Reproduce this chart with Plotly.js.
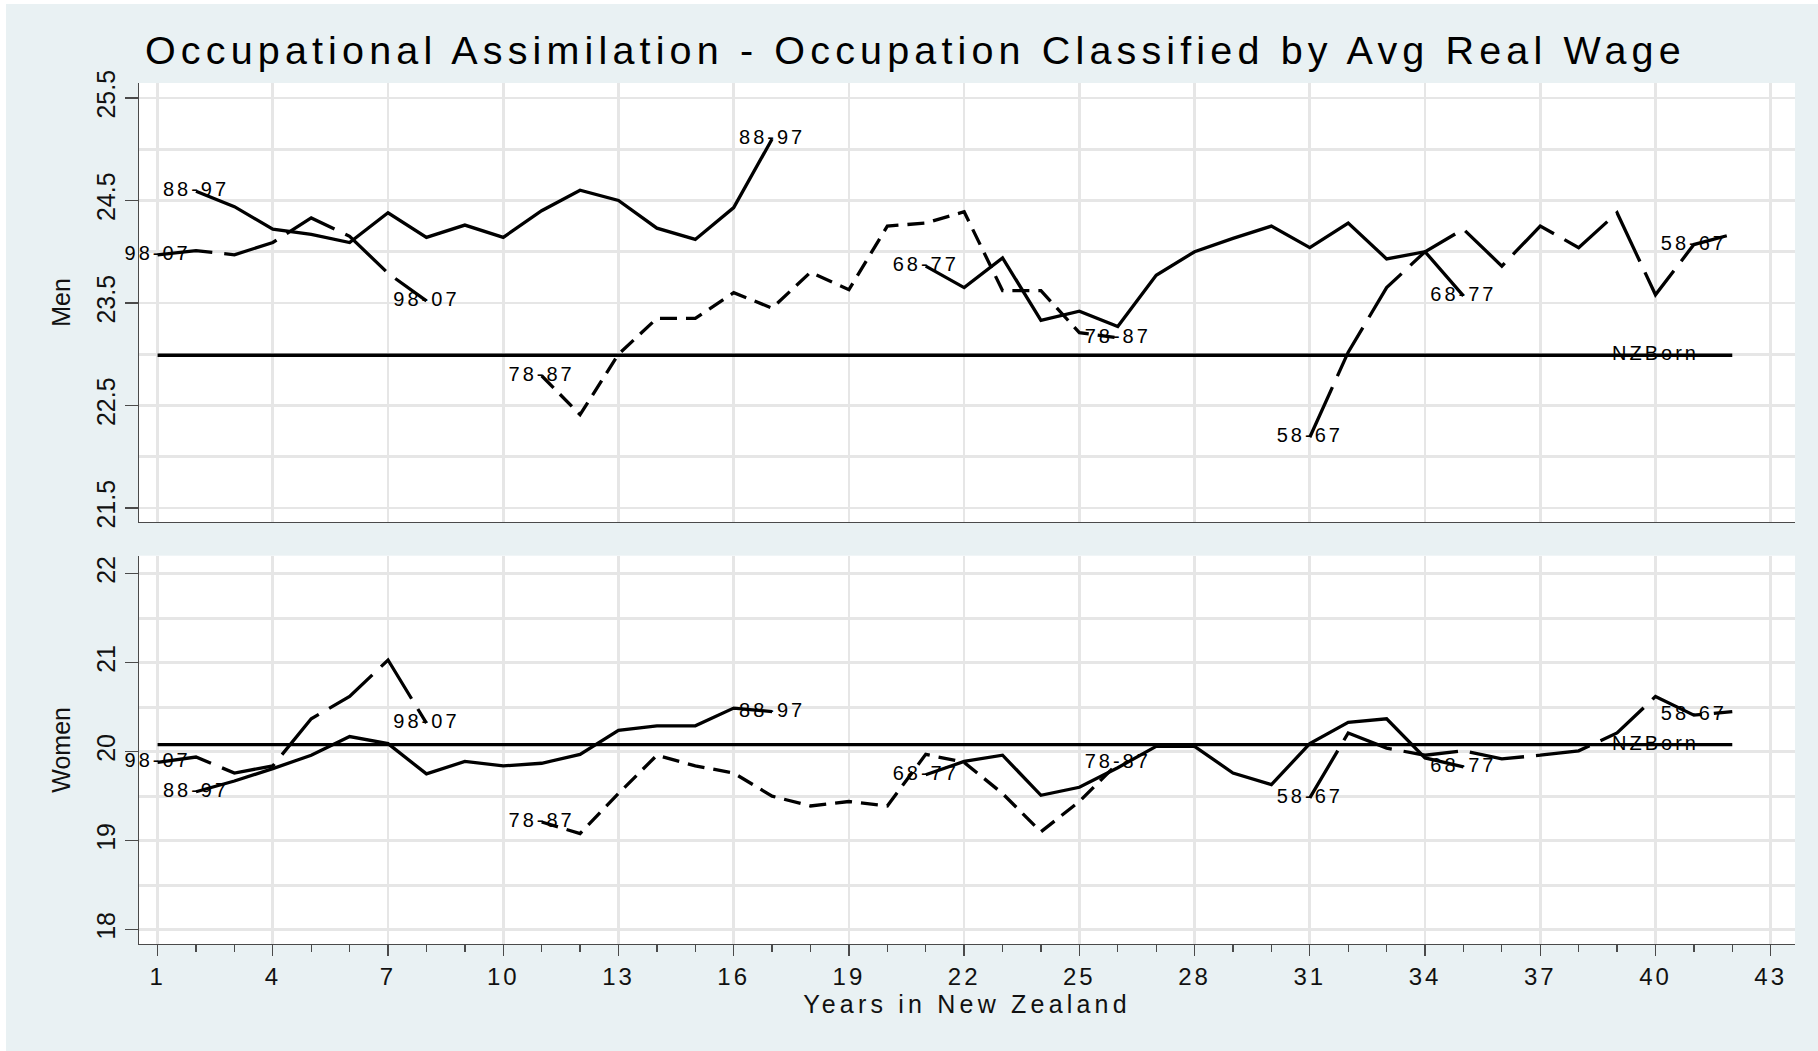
<!DOCTYPE html>
<html>
<head>
<meta charset="utf-8">
<script src="https://cdn.plot.ly/plotly-3.0.1.min.js"></script>
<style>
html, body { margin: 0; padding: 0; background: #ffffff; }
#chart { position: absolute; left: 6px; top: 4px; width: 1812px; height: 1047px; }
.gtitle { letter-spacing: 5.15px; }
.xtitle, .x2title { letter-spacing: 4.2px; }
.xtick text, .x2tick text { letter-spacing: 3px; }
.textpoint text { letter-spacing: 3px; }
</style>
</head>
<body>
<div id="chart"></div>
<script>
// ---------------- data ----------------
const cohorts    = ['98-07', '88-97', '78-87', '68-77', '58-67'];
const startYears = [1, 2, 11, 21, 31];
const endLabelYears = [8, 17, 26, 35, 41];

const men9807 = [23.97, 24.01, 23.97, 24.09, 24.33, 24.15, 23.79, 23.52];
const men8897 = [24.59, 24.44, 24.22, 24.17, 24.09, 24.38, 24.14, 24.26, 24.14, 24.40, 24.60, 24.50, 24.23, 24.12, 24.43, 25.10];
const men7887 = [22.79, 22.41, 23.00, 23.35, 23.35, 23.60, 23.45, 23.80, 23.63, 24.25, 24.28, 24.39, 23.62, 23.62, 23.21, 23.16];
const men6877 = [23.86, 23.65, 23.94, 23.33, 23.42, 23.27, 23.77, 24.00, 24.13, 24.25, 24.04, 24.28, 23.93, 24.00, 23.57];
const men5867 = [22.19, 23.02, 23.65, 24.00, 24.22, 23.86, 24.25, 24.04, 24.38, 23.58, 24.07, 24.17];

const women9807 = [19.88, 19.94, 19.76, 19.84, 20.37, 20.62, 21.03, 20.32];
const women8897 = [19.55, 19.67, 19.81, 19.96, 20.17, 20.09, 19.75, 19.89, 19.84, 19.87, 19.97, 20.24, 20.29, 20.29, 20.49, 20.45];
const women7887 = [19.21, 19.08, 19.53, 19.96, 19.84, 19.76, 19.50, 19.39, 19.44, 19.39, 19.97, 19.88, 19.53, 19.10, 19.44, 19.87];
const women6877 = [19.74, 19.89, 19.96, 19.51, 19.60, 19.82, 20.06, 20.06, 19.76, 19.63, 20.09, 20.33, 20.37, 19.93, 19.83];
const women5867 = [19.48, 20.21, 20.04, 19.96, 20.01, 19.92, 19.96, 20.01, 20.21, 20.62, 20.41, 20.45];

const nzBornLabel = 'NZBorn';
const nzBornYears = [1, 42];
const nzBornMen   = 22.99;
const nzBornWomen = 20.08;
const nzLabelYear = 40;

const xTickVals = [1, 4, 7, 10, 13, 16, 19, 22, 25, 28, 31, 34, 37, 40, 43];

// ---------------- styles ----------------
const dashStyles = ['55px,12px', 'solid', '17px,9px', 'solid', '55px,12px'];
const LINE_W = 3.3;
const GRID = '#E6E6E6';
const AXC = '#4a4a4a';
const FONT = '"Liberation Sans", Arial, Helvetica, sans-serif';

const menSeries   = [men9807, men8897, men7887, men6877, men5867];
const womenSeries = [women9807, women8897, women7887, women6877, women5867];

function yearsFor(start, arr) { return arr.map((_, i) => start + i); }

function panelTraces(series, nzVal, xa, ya) {
  const traces = [];
  const lx = [], ly = [], lt = [];
  series.forEach((vals, k) => {
    const xs = yearsFor(startYears[k], vals);
    traces.push({
      x: xs, y: vals, xaxis: xa, yaxis: ya, type: 'scatter', mode: 'lines',
      name: cohorts[k], showlegend: false, hoverinfo: 'x+y+name',
      line: { color: '#000000', width: LINE_W, dash: dashStyles[k] }
    });
    lx.push(xs[0]); ly.push(vals[0]); lt.push(cohorts[k]);
    const ei = xs.indexOf(endLabelYears[k]);
    lx.push(xs[ei]); ly.push(vals[ei]); lt.push(cohorts[k]);
  });
  traces.push({
    x: nzBornYears, y: nzBornYears.map(() => nzVal), xaxis: xa, yaxis: ya,
    type: 'scatter', mode: 'lines', name: nzBornLabel, showlegend: false,
    line: { color: '#000000', width: LINE_W }
  });
  lx.push(nzLabelYear); ly.push(nzVal); lt.push(nzBornLabel);
  traces.push({
    x: lx, y: ly, text: lt, xaxis: xa, yaxis: ya, type: 'scatter', mode: 'text',
    textposition: 'middle center', cliponaxis: false, showlegend: false, hoverinfo: 'skip',
    textfont: { family: FONT, size: 20, color: '#000000' }
  });
  return traces;
}

const data = [].concat(
  panelTraces(menSeries, nzBornMen, 'x', 'y'),
  panelTraces(womenSeries, nzBornWomen, 'x2', 'y2')
);

const xCommon = {
  range: [0.516, 43.633], tickmode: 'array', tickvals: xTickVals,
  showgrid: true, gridcolor: GRID, gridwidth: 2.7, zeroline: false,
  showline: true, linecolor: AXC, linewidth: 1.3
};
const yCommon = {
  showgrid: true, gridcolor: GRID, gridwidth: 2.7, zeroline: false,
  showline: true, linecolor: AXC, linewidth: 1.3,
  ticks: 'outside', ticklen: 13, tickwidth: 1.3, tickcolor: AXC,
  tickangle: -90, tickfont: { family: FONT, size: 25, color: '#111' }
};

const layout = {
  width: 1812, height: 1047,
  paper_bgcolor: '#E9F1F3', plot_bgcolor: '#FFFFFF',
  margin: { l: 133, r: 23, t: 79, b: 107 },
  font: { family: FONT, color: '#000' },
  title: {
    text: 'Occupational Assimilation - Occupation Classified by Avg Real Wage',
    font: { family: FONT, size: 39.5, color: '#000' },
    x: 0.0767, xref: 'container', xanchor: 'left',
    y: 0.956, yref: 'container', yanchor: 'middle'
  },
  xaxis: Object.assign({}, xCommon, {
    domain: [0, 1], anchor: 'y', showticklabels: false, ticks: ''
  }),
  xaxis2: Object.assign({}, xCommon, {
    domain: [0, 1], anchor: 'y2', ticks: 'outside', ticklen: 11, tickwidth: 1.3, tickcolor: AXC,
    tickfont: { family: FONT, size: 24, color: '#111' },
    minor: { dtick: 1, tick0: 1, ticks: 'outside', ticklen: 7, tickwidth: 1.3, tickcolor: AXC, showgrid: false },
    title: { text: 'Years in New Zealand', font: { family: FONT, size: 25, color: '#111' }, standoff: 6 }
  }),
  yaxis: Object.assign({}, yCommon, {
    domain: [0.4901, 1], anchor: 'x', range: [21.363, 25.646],
    tickmode: 'linear', tick0: 21.5, dtick: 1,
    minor: { tick0: 21.5, dtick: 0.5, showgrid: true, gridcolor: GRID, gridwidth: 2.7, ticks: '' },
    title: { text: 'Men', font: { family: FONT, size: 25, color: '#111' }, standoff: 14 }
  }),
  yaxis2: Object.assign({}, yCommon, {
    domain: [0, 0.451], anchor: 'x2', range: [17.839, 22.202],
    tickmode: 'linear', tick0: 18, dtick: 1,
    minor: { tick0: 18, dtick: 0.5, showgrid: true, gridcolor: GRID, gridwidth: 2.7, ticks: '' },
    title: { text: 'Women', font: { family: FONT, size: 25, color: '#111' }, standoff: 14 }
  }),
  showlegend: false
};

Plotly.newPlot('chart', data, layout, { displayModeBar: false, staticPlot: true });
</script>
</body>
</html>
